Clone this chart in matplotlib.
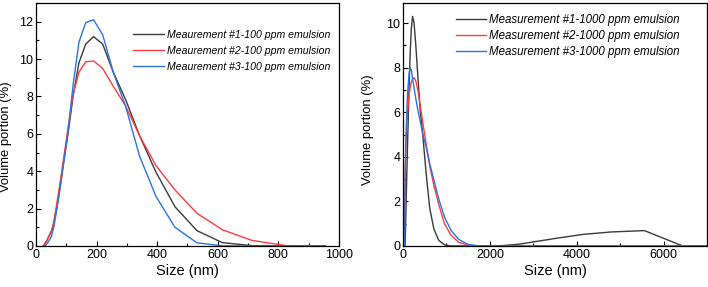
import matplotlib
matplotlib.use("Agg")
import matplotlib.pyplot as plt
from matplotlib.ticker import MultipleLocator

plt.rcParams.update({
    "font.family": ["Liberation Sans", "DejaVu Sans"],
    "font.size": 9,
    "xtick.direction": "in",
    "ytick.direction": "in",
    "axes.linewidth": 0.9,
})

# size bins (nm)
size_nm = [24.4, 28.2, 32.7, 37.8, 43.8, 50.7, 58.8, 68.1, 78.8, 91.3,
           105.7, 122.4, 141.8, 164.2, 190.1, 220.2, 255.0, 295.3, 342.0, 396.1,
           458.7, 531.2, 615.1, 712.4, 825.0, 955.4, 1106, 1281, 1484, 1718,
           1990, 2305, 2669, 3091, 3580, 4145, 4801, 5560, 6439, 7456]

# 100 ppm emulsion (first 26 bins)
m1_100 = [0, 0.1, 0.2, 0.35, 0.55, 0.8, 1.2, 2.0, 3.1, 4.5,
          6.0, 8.0, 9.8, 10.8, 11.2, 10.8, 9.3, 7.85, 5.9, 3.95,
          2.1, 0.82, 0.18, 0.02, 0, 0]
m2_100 = [0, 0.1, 0.2, 0.35, 0.55, 0.75, 1.3, 2.2, 3.3, 4.7,
          6.3, 8.1, 9.3, 9.85, 9.9, 9.5, 8.55, 7.5, 5.9, 4.3,
          3.0, 1.75, 0.87, 0.3, 0.02, 0]
m3_100 = [0, 0, 0.05, 0.15, 0.3, 0.5, 1.0, 1.9, 3.0, 4.4,
          6.1, 8.6, 10.9, 11.95, 12.1, 11.3, 9.3, 7.5, 4.8, 2.65,
          1.0, 0.17, 0.01, 0, 0, 0]

# 1000 ppm emulsion (all bins)
m1_1000 = [0, 0, 0, 0, 0, 0.2, 0.8, 1.6, 2.5, 3.5,
           4.6, 5.8, 7.2, 8.6, 9.7, 10.3, 10.0, 9.0, 7.6, 6.1,
           4.9, 3.3, 1.7, 0.75, 0.25, 0.05, 0, 0, 0, 0,
           0, 0.02, 0.08, 0.21, 0.36, 0.52, 0.63, 0.69, 0, 0]
m2_1000 = [0, 0, 0.8, 1.6, 2.5, 3.3, 4.0, 4.6, 5.1, 5.6,
           6.0, 6.4, 6.8, 7.1, 7.35, 7.5, 7.55, 7.4, 7.0, 6.3,
           5.5, 4.6, 3.6, 2.7, 1.85, 1.0, 0.48, 0.17, 0.04, 0,
           0, 0, 0, 0, 0, 0, 0, 0, 0, 0]
m3_1000 = [0, 0, 0, 0, 1.5, 2.8, 3.9, 4.8, 5.5, 6.2,
           6.8, 7.3, 7.75, 8.0, 7.9, 7.5, 7.1, 6.6, 6.1, 5.6,
           5.0, 4.45, 3.7, 2.95, 2.1, 1.3, 0.7, 0.3, 0.08, 0.01,
           0, 0, 0, 0, 0, 0, 0, 0, 0, 0]

labels_100 = ["Meaurement #1-100 ppm emulsion",
              "Meaurement #2-100 ppm emulsion",
              "Meaurement #3-100 ppm emulsion"]
labels_1000 = ["Measurement #1-1000 ppm emulsion",
               "Measurement #2-1000 ppm emulsion",
               "Measurement #3-1000 ppm emulsion"]

colors = ["#3a3a3a", "#ff3b3b", "#2b72e6"]

fig = plt.figure(figsize=(7.08, 2.87), dpi=100)
ax1 = fig.add_axes([0.0508, 0.1429, 0.428, 0.8467])
ax2 = fig.add_axes([0.5692, 0.1429, 0.4294, 0.8467])

n = len(m1_100)
for ys, lab, c in zip([m1_100, m2_100, m3_100], labels_100, colors):
    ax1.plot(size_nm[:n], ys, color=c, lw=1.0, label=lab)
for ys, lab, c in zip([m1_1000, m2_1000, m3_1000], labels_1000, colors):
    ax2.plot(size_nm, ys, color=c, lw=1.0, label=lab)

ax1.set_xlim(0, 1000)
ax1.set_ylim(0, 13)
ax1.xaxis.set_major_locator(MultipleLocator(200))
ax1.xaxis.set_minor_locator(MultipleLocator(100))
ax1.yaxis.set_major_locator(MultipleLocator(2))
ax1.yaxis.set_minor_locator(MultipleLocator(1))

ax2.set_xlim(0, 7000)
ax2.set_ylim(0, 10.9)
ax2.xaxis.set_major_locator(MultipleLocator(2000))
ax2.xaxis.set_minor_locator(MultipleLocator(1000))
ax2.yaxis.set_major_locator(MultipleLocator(2))
ax2.yaxis.set_minor_locator(MultipleLocator(1))

for ax in (ax1, ax2):
    ax.set_xlabel("Size (nm)", fontsize=10.5, labelpad=2)
    ax.set_ylabel("Volume portion (%)", fontsize=9.4)
    ax.tick_params(which="major", length=3.5, width=0.8, labelsize=9, pad=2)
    ax.tick_params(which="minor", length=2, width=0.8)
    ax.tick_params(top=False, right=False, which="both")

# ylabel placement (axes fraction), matching reference
ax1.yaxis.set_label_coords(-0.078, 0.45)
ax2.yaxis.set_label_coords(-0.095, 0.477)

ax1.legend(loc="upper left", bbox_to_anchor=(0.32, 0.89), borderaxespad=0,
           borderpad=0, frameon=False, handlelength=2.9, handletextpad=0.3,
           labelspacing=0.56, prop={"style": "italic", "size": 7.6})
ax2.legend(loc="upper left", bbox_to_anchor=(0.175, 0.955), borderaxespad=0,
           borderpad=0, frameon=False, handlelength=2.6, handletextpad=0.25,
           labelspacing=0.36, prop={"style": "italic", "size": 8.3})

fig.savefig("out.png", dpi=100)
